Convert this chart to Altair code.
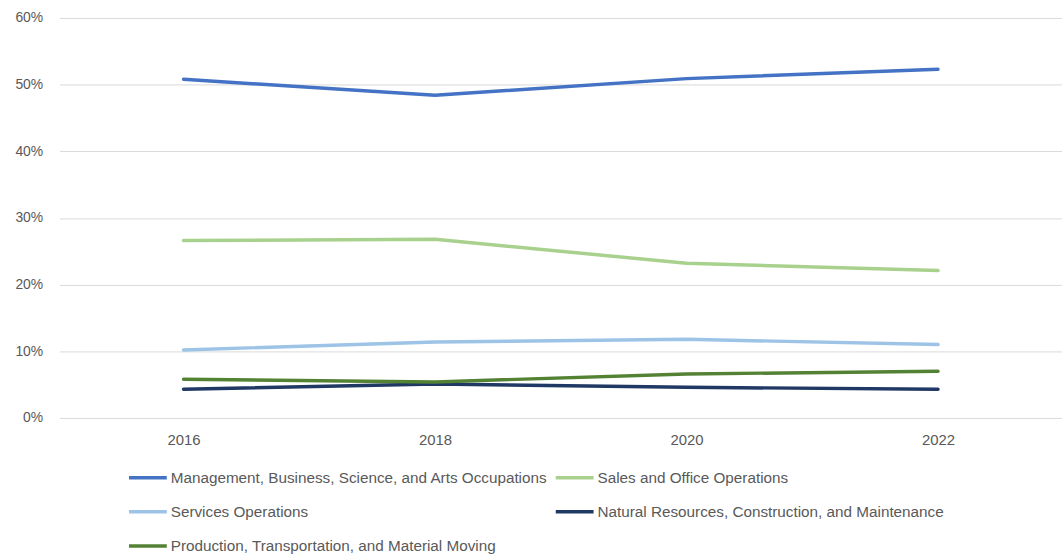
import altair as alt
import pandas as pd

years = ["2016", "2018", "2020", "2022"]
series_names = [
    "Management, Business, Science, and Arts Occupations",
    "Sales and Office Operations",
    "Services Operations",
    "Natural Resources, Construction, and Maintenance",
    "Production, Transportation, and Material Moving",
]
management = [0.508, 0.484, 0.509, 0.523]
sales = [0.266, 0.268, 0.232, 0.221]
services = [0.102, 0.114, 0.118, 0.110]
natural = [0.043, 0.051, 0.046, 0.043]
production = [0.058, 0.054, 0.066, 0.070]
colors = ["#4472C4", "#A9D18E", "#9DC3E6", "#203864", "#548235"]

values = [management, sales, services, natural, production]
rows = []
for name, vals in zip(series_names, values):
    for y, v in zip(years, vals):
        rows.append({"Year": y, "Series": name, "Share": v})
df = pd.DataFrame(rows)

FONT = "Liberation Sans"
TXT = "#595959"

chart = (
    alt.Chart(df)
    .mark_line(strokeWidth=3.5, strokeCap="round", strokeJoin="round")
    .encode(
        x=alt.X(
            "Year:O",
            sort=years,
            scale=alt.Scale(type="point", padding=0.493),
            axis=alt.Axis(
                title=None, labelAngle=0, ticks=False, domain=False, grid=False,
                labelPadding=15, labelFontSize=15, labelColor=TXT, labelFont=FONT,
            ),
        ),
        y=alt.Y(
            "Share:Q",
            scale=alt.Scale(domain=[0, 0.6], nice=False),
            axis=alt.Axis(
                title=None, format=".0%", values=[0, 0.1, 0.2, 0.3, 0.4, 0.5, 0.6],
                ticks=False, domain=False, gridColor="#D9D9D9", gridWidth=1,
                labelPadding=17, labelFontSize=14, labelColor=TXT, labelFont=FONT,
            ),
        ),
        color=alt.Color(
            "Series:N",
            sort=series_names,
            scale=alt.Scale(domain=series_names, range=colors),
            legend=alt.Legend(
                title=None, orient="none", legendX=72, legendY=446,
                columns=2, direction="horizontal",
                symbolType="M-1.27,0H1.27", symbolSize=900, symbolStrokeWidth=3.5,
                symbolFillColor="transparent",
                labelFontSize=15.4, labelColor=TXT, labelFont=FONT, labelLimit=0,
                labelOffset=6, columnPadding=0, rowPadding=8.5,
            ),
        ),
    )
    .properties(
        width=1010, height=403,
        background="white",
        autosize=alt.AutoSizeParams(type="none"),
        padding={"left": 60, "top": 16, "right": 0, "bottom": 135},
    )
    .configure_view(strokeWidth=0, stroke="transparent")
)

chart.save("out.html", embed_options={"renderer": "svg", "actions": False})
